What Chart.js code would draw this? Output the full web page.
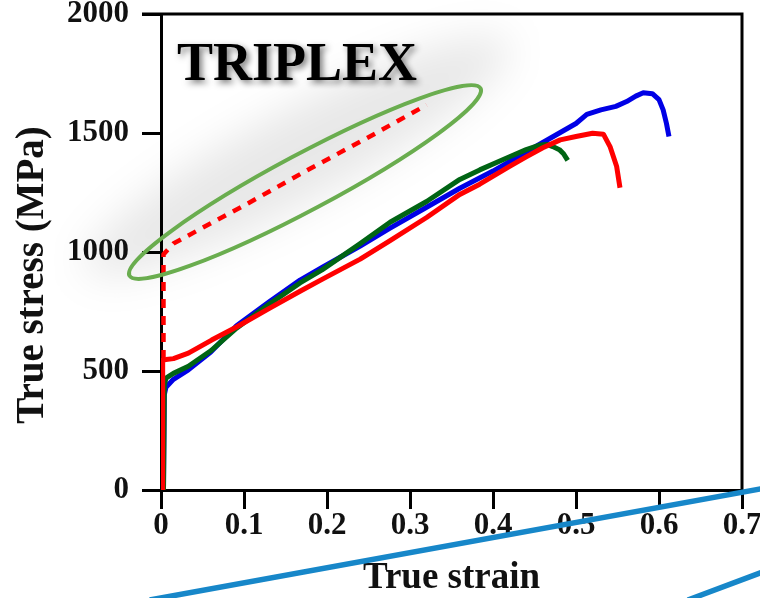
<!DOCTYPE html>
<html>
<head>
<meta charset="utf-8">
<script src="https://cdn.jsdelivr.net/npm/chart.js@4.4.1/dist/chart.umd.min.js"></script>
<style>
  html, body { margin: 0; padding: 0; background: #ffffff; }
  #wrap { width: 760px; height: 598px; position: relative; }
</style>
</head>
<body>
<div id="wrap"><canvas id="chart" width="760" height="598"></canvas></div>
<script>
// Axis tick labels and titles
const xTickLabels = ['0', '0.1', '0.2', '0.3', '0.4', '0.5', '0.6', '0.7'];
const yTickLabels = ['0', '500', '1000', '1500', '2000'];
const xTitle = 'True strain';
const yTitle = 'True stress (MPa)';

// Blue test: true strain / true stress (MPa)
const blueStrain = [0.003, 0.004, 0.006, 0.015, 0.033, 0.06, 0.091, 0.13, 0.1675, 0.194, 0.24, 0.276, 0.32, 0.36, 0.40, 0.44, 0.47, 0.50, 0.513, 0.53, 0.548, 0.561, 0.572, 0.581, 0.592, 0.600, 0.605, 0.609, 0.612];
const blueStress = [0, 400, 432, 465, 505, 580, 690, 790, 882, 935, 1025, 1100, 1188, 1268, 1340, 1420, 1480, 1540, 1578, 1597, 1612, 1632, 1655, 1669, 1665, 1640, 1597, 1540, 1485];

// Green test
const greenStrain = [0.003, 0.004, 0.006, 0.015, 0.033, 0.06, 0.091, 0.13, 0.1675, 0.194, 0.24, 0.276, 0.32, 0.36, 0.384, 0.42, 0.44, 0.457, 0.465, 0.472, 0.48, 0.485, 0.49];
const greenStress = [0, 440, 470, 490, 520, 585, 680, 780, 870, 925, 1035, 1125, 1212, 1305, 1345, 1400, 1430, 1450, 1452, 1443, 1430, 1413, 1385];

// Red test (solid)
const redStrain = [0.002, 0.002, 0.006, 0.015, 0.033, 0.061, 0.091, 0.13, 0.1675, 0.194, 0.24, 0.276, 0.32, 0.36, 0.384, 0.42, 0.44, 0.46, 0.481, 0.50, 0.52, 0.533, 0.541, 0.549, 0.553];
const redStress = [0, 545, 548, 552, 575, 630, 685, 762, 835, 885, 970, 1048, 1145, 1242, 1285, 1360, 1400, 1438, 1471, 1485, 1499, 1495, 1443, 1359, 1270];

// Red test (dashed)
const dashStrain = [0.003, 0.003, 0.015, 0.1, 0.18, 0.25, 0.32];
const dashStress = [550, 990, 1036, 1195, 1351, 1482, 1618];

// Highlight ellipse around the dashed curve (centre in data units)
const ellipseCenter = [0.1735, 1294];

const pairs = (xs, ys) => xs.map((v, i) => ({ x: v, y: ys[i] }));

const serif = '"Liberation Serif", "Times New Roman", Times, serif';
const ink = '#111111';

const decorPlugin = {
  id: 'decor',
  beforeDatasetsDraw(chart) {
    const { ctx, scales: { x, y } } = chart;
    const cx = x.getPixelForValue(ellipseCenter[0]);
    const cy = y.getPixelForValue(ellipseCenter[1]);
    // soft grey haze behind the highlighted region
    ctx.save();
    ctx.filter = 'blur(20px)';
    ctx.translate(cx - 8, cy - 26);
    ctx.rotate(-0.49);
    ctx.beginPath();
    ctx.ellipse(0, 0, 240, 46, 0, 0, Math.PI * 2);
    ctx.fillStyle = 'rgba(0,0,0,0.09)';
    ctx.fill();
    ctx.restore();
  },
  afterDatasetsDraw(chart) {
    const { ctx, chartArea: a, scales: { x, y } } = chart;
    // top and right frame lines
    ctx.save();
    ctx.strokeStyle = '#000';
    ctx.lineWidth = 3;
    ctx.beginPath();
    ctx.moveTo(a.left - 19, a.top);
    ctx.lineTo(a.right, a.top);
    ctx.lineTo(a.right, a.bottom);
    ctx.stroke();
    ctx.restore();

    // green highlight ellipse
    const cx = x.getPixelForValue(ellipseCenter[0]);
    const cy = y.getPixelForValue(ellipseCenter[1]);
    ctx.save();
    ctx.translate(cx, cy);
    ctx.rotate(-0.49);
    ctx.beginPath();
    ctx.ellipse(0, 0, 199, 28, 0, 0, Math.PI * 2);
    ctx.strokeStyle = '#6aad4f';
    ctx.lineWidth = 4;
    ctx.stroke();
    ctx.restore();
  },
  afterDraw(chart) {
    const { ctx, chartArea: a, width, height } = chart;
    // vertical axis title, centred a little below the plot middle
    ctx.save();
    ctx.font = 'bold 39px ' + serif;
    ctx.fillStyle = ink;
    ctx.textAlign = 'center';
    ctx.textBaseline = 'alphabetic';
    ctx.translate(43, (a.top + a.bottom) / 2 + 23);
    ctx.rotate(-Math.PI / 2);
    ctx.fillText(yTitle, 0, 0);
    ctx.restore();

    // panel title with drop shadow
    ctx.save();
    ctx.font = 'bold 54px ' + serif;
    ctx.textAlign = 'center';
    ctx.textBaseline = 'middle';
    ctx.shadowColor = 'rgba(0,0,0,0.5)';
    ctx.shadowBlur = 6;
    ctx.shadowOffsetX = 3;
    ctx.shadowOffsetY = 3;
    ctx.fillStyle = '#000';
    ctx.fillText('TRIPLEX', a.left + 136, a.top + 52);
    ctx.restore();

    // slide accent strokes along the bottom edge
    ctx.save();
    ctx.strokeStyle = '#1787c9';
    ctx.lineWidth = 5.5;
    ctx.beginPath();
    ctx.moveTo(width * 0.197, height + 2);
    ctx.lineTo(width + 2, height * 0.817);
    ctx.moveTo(width * 0.905, height + 2);
    ctx.lineTo(width + 2, height * 0.957);
    ctx.stroke();
    ctx.restore();
  }
};

const lineDs = (data, color, extra) => Object.assign({
  data, borderColor: color, backgroundColor: color, borderWidth: 5,
  showLine: true, pointRadius: 0, tension: 0, borderJoinStyle: 'round', fill: false
}, extra || {});

new Chart(document.getElementById('chart'), {
  type: 'scatter',
  data: {
    datasets: [
      lineDs(pairs(redStrain, redStress), '#ff0000'),
      lineDs(pairs(dashStrain, dashStress), '#ff0000', { borderDash: [9, 8], borderWidth: 4.5 }),
      lineDs(pairs(greenStrain, greenStress), '#006414'),
      lineDs(pairs(blueStrain, blueStress), '#0000e6')
    ]
  },
  options: {
    responsive: false,
    devicePixelRatio: 1,
    animation: false,
    layout: { padding: { top: 14, right: 18, bottom: 0, left: 0 } },
    plugins: { legend: { display: false }, tooltip: { enabled: false } },
    scales: {
      x: {
        type: 'linear', min: 0, max: 0.7,
        afterBuildTicks(s) { s.ticks = xTickLabels.map((t, i) => ({ value: i / 10 })); },
        ticks: {
          callback: (v, i) => xTickLabels[i],
          font: { family: serif, size: 31, weight: 'bold', lineHeight: 1 },
          color: ink, padding: 1, maxRotation: 0, autoSkip: false
        },
        grid: { drawOnChartArea: false, drawTicks: true, tickLength: 19, tickWidth: 3, tickColor: '#000' },
        border: { display: true, color: '#000', width: 3 },
        title: {
          display: true, text: xTitle,
          font: { family: serif, size: 37, weight: 'bold', lineHeight: 1 }, color: ink,
          padding: { top: 0, bottom: 1 }
        },
        afterFit(s) { s.height = 108; s.paddingLeft = 0; s.paddingRight = 0; }
      },
      y: {
        type: 'linear', min: 0, max: 2000,
        afterBuildTicks(s) { s.ticks = yTickLabels.map(t => ({ value: Number(t) })); },
        ticks: {
          callback: (v, i) => yTickLabels[i],
          font: { family: serif, size: 31, weight: 'bold' },
          color: ink, padding: 13
        },
        grid: { drawOnChartArea: false, drawTicks: true, tickLength: 19, tickWidth: 3, tickColor: '#000' },
        border: { display: true, color: '#000', width: 3 },
        title: { display: false },
        afterFit(s) { s.width = 161; s.paddingTop = 0; s.paddingBottom = 0; }
      }
    }
  },
  plugins: [decorPlugin]
});
</script>
</body>
</html>
